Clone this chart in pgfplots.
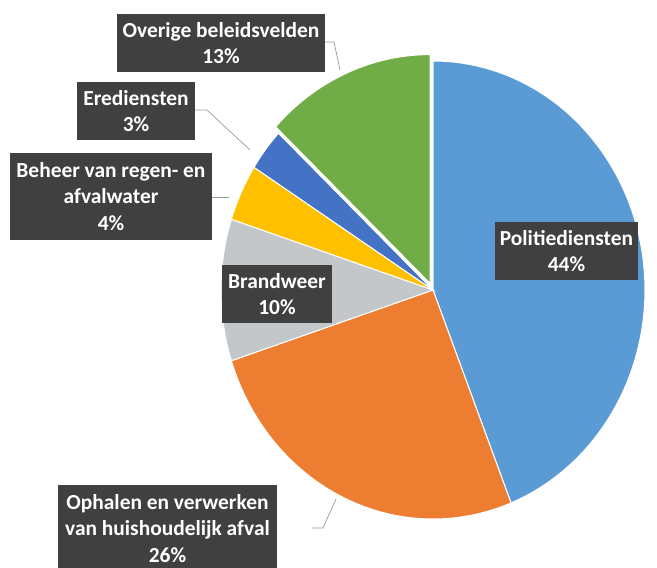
\documentclass[border=0pt]{standalone}
\usepackage{fontspec}
\setmainfont{Carlito}
\usepackage{pgfplots}
\pgfplotsset{compat=1.18}
\definecolor{cBlue}{HTML}{5B9BD5}
\definecolor{cOrange}{HTML}{ED7D31}
\definecolor{cGray}{HTML}{C4C7CA}
\definecolor{cYellow}{HTML}{FFC000}
\definecolor{cDBlue}{HTML}{4472C4}
\definecolor{cGreen}{HTML}{70AD47}
\definecolor{cBox}{HTML}{404040}
\definecolor{cLead}{HTML}{9A9A9A}
\def\cx{433}\def\cy{290}\def\rx{212}\def\ry{229}
% #1 start (%), #2 value (%), #3 colour, #4 explosion distance (px)
\newcommand\slice[4]{%
  \addplot[fill=#3, draw=white, line width=1bp, samples=80, variable=\t,
    domain={90-3.6*(#1+#2)}:{90-3.6*#1}]
    ({\cx + #4*cos(90-3.6*(#1+#2/2)) + \rx*cos(t)},
     {\cy - #4*sin(90-3.6*(#1+#2/2)) - \ry*sin(t)})
    -- (axis cs:{\cx + #4*cos(90-3.6*(#1+#2/2))},{\cy - #4*sin(90-3.6*(#1+#2/2))}) -- cycle;}
\tikzset{lbl/.style={fill=cBox, text=white, align=center, inner sep=0pt,
    font=\fontsize{21.5}{26.5}\selectfont\bfseries}}
\begin{document}
\begin{tikzpicture}
\useasboundingbox (0,0) rectangle (657bp,568bp);
\begin{axis}[at={(0,568bp)}, anchor=north west, x=1bp, y=1bp, scale only axis,
  xmin=0, xmax=657, ymin=0, ymax=568, y dir=reverse, hide axis, clip=false]
% Politiediensten 44, Ophalen 26, Brandweer 10, Beheer 4, Erediensten 3, Overige 13
\slice{0}{44}{cBlue}{0}
\slice{44}{26}{cOrange}{0}
\slice{70}{10}{cGray}{0}
\slice{80}{4}{cYellow}{0}
\slice{84}{3}{cDBlue}{0}
\slice{87}{13}{cGreen}{7}
% leader lines
\draw[cLead, line width=0.7bp] (axis cs:325,42) -- (axis cs:334,42) -- (axis cs:340,70);
\draw[cLead, line width=0.7bp] (axis cs:195,110) -- (axis cs:207,110) -- (axis cs:250,150);
\draw[cLead, line width=0.7bp] (axis cs:212,197) -- (axis cs:229,197);
\draw[cLead, line width=0.7bp] (axis cs:312,528) -- (axis cs:323,528) -- (axis cs:336,499);
% labels
\node[lbl, minimum width=208bp, minimum height=58bp] at (axis cs:221,43) {Overige beleidsvelden\\13\%};
\node[lbl, minimum width=118bp, minimum height=58bp] at (axis cs:136,111) {Erediensten\\3\%};
\node[lbl, minimum width=202bp, minimum height=87bp] at (axis cs:111,196.5) {Beheer van regen- en\\afvalwater\\4\%};
\node[lbl, minimum width=110bp, minimum height=58bp] at (axis cs:277,294) {Brandweer\\10\%};
\node[lbl, minimum width=143bp, minimum height=58bp] at (axis cs:566.5,251) {Politiediensten\\44\%};
\node[lbl, minimum width=219bp, minimum height=87bp] at (axis cs:167.5,528.5) {Ophalen en verwerken\\van huishoudelijk afval\\26\%};
\end{axis}
\end{tikzpicture}
\end{document}
